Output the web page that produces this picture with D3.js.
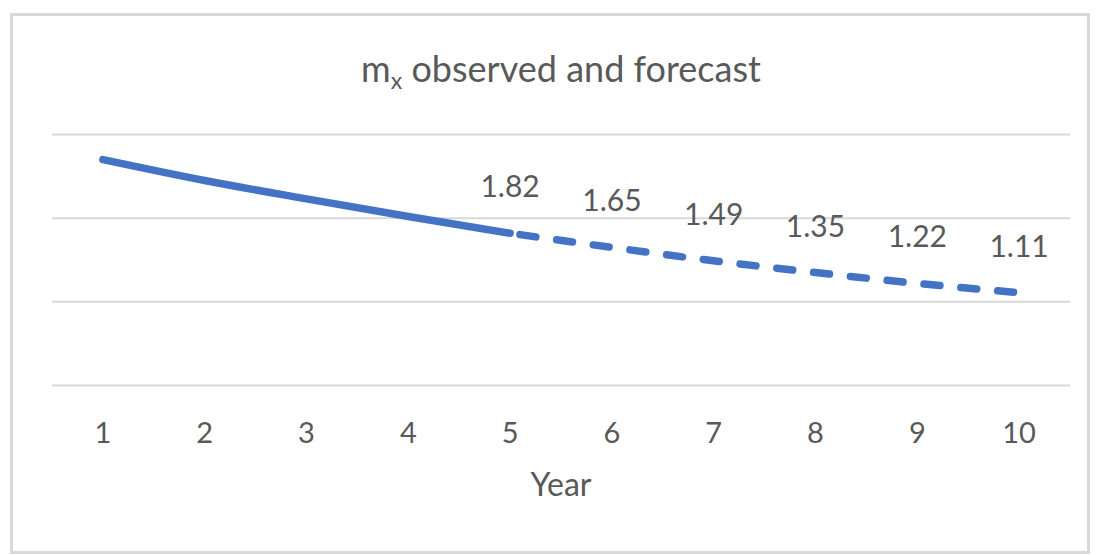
<!DOCTYPE html>
<html>
<head>
<meta charset="utf-8">
<script src="https://cdn.jsdelivr.net/npm/d3@7"></script>
<style>
  html, body { margin: 0; padding: 0; background: #fff; }
  svg { display: block; }
  text { font-family: Lato, "Open Sans", sans-serif; fill: #595959; }
</style>
</head>
<body>
<svg id="chart" width="1097" height="555"></svg>
<script>
const years = [1, 2, 3, 4, 5, 6, 7, 8, 9, 10];
const observedYears = [1, 2, 3, 4, 5];
const observedValues = [2.70, 2.45, 2.23, 2.02, 1.82];
const forecastYears = [5, 6, 7, 8, 9, 10];
const forecastValues = [1.82, 1.65, 1.49, 1.35, 1.22, 1.11];
const yTicks = [0, 1, 2, 3];
const titleMain = "m";
const titleSub = "x";
const titleRest = " observed and forecast";
const xTitle = "Year";

const svg = d3.select("#chart");
const W = 1097, H = 555;

svg.append("rect").attr("x", 0).attr("y", 0).attr("width", W).attr("height", H).attr("fill", "#fff");
svg.append("rect")
  .attr("x", 11.5).attr("y", 14.5).attr("width", 1077).attr("height", 538)
  .attr("fill", "#fff").attr("stroke", "#d9d9d9").attr("stroke-width", 3);

const x = d3.scaleBand().domain(years).range([52, 1070]).padding(0);
const y = d3.scaleLinear().domain([0, 3]).range([385.5, 134.5]);
const cx = d => x(d) + x.bandwidth() / 2;

// gridlines
svg.append("g").selectAll("line").data(yTicks).join("line")
  .attr("x1", 52).attr("x2", 1070)
  .attr("y1", d => y(d)).attr("y2", d => y(d))
  .attr("stroke", "#d9d9d9").attr("stroke-width", 2);

// x axis labels
const xAxis = d3.axisBottom(x).tickSize(0).tickPadding(0);
const gx = svg.append("g").attr("transform", "translate(0,385.5)").call(xAxis);
gx.select(".domain").remove();
gx.selectAll("text")
  .attr("y", 57).attr("dy", null)
  .style("font-family", "Lato, sans-serif")
  .style("font-size", "29px").attr("fill", "#595959");

// lines
const lineGen = d3.line().x(d => cx(d[0])).y(d => y(d[1])).curve(d3.curveMonotoneX);
svg.append("path")
  .datum(observedYears.map((d, i) => [d, observedValues[i]]))
  .attr("d", lineGen).attr("fill", "none")
  .attr("stroke", "#4472c4").attr("stroke-width", 7.5).attr("stroke-linecap", "round");
svg.append("path")
  .datum(forecastYears.map((d, i) => [d, forecastValues[i]]))
  .attr("d", lineGen).attr("fill", "none")
  .attr("stroke", "#4472c4").attr("stroke-width", 7.5).attr("stroke-linecap", "round")
  .attr("stroke-dasharray", "16 21").attr("stroke-dashoffset", -10);

// data labels
svg.append("g").selectAll("text").data(forecastYears.map((d, i) => [d, forecastValues[i]])).join("text")
  .attr("x", d => cx(d[0])).attr("y", d => y(d[1]) - 36)
  .attr("text-anchor", "middle").style("font-size", "30px")
  .text(d => d[1].toFixed(2));

// title
const t = svg.append("text").attr("x", 561).attr("y", 82).attr("text-anchor", "middle").style("font-size", "36px");
t.append("tspan").text(titleMain);
t.append("tspan").attr("dy", 7).style("font-size", "23px").text(titleSub);
t.append("tspan").attr("dy", -7).text(titleRest);

// axis title
svg.append("text").attr("x", 561).attr("y", 496).attr("text-anchor", "middle")
  .style("font-size", "32px").text(xTitle);
</script>
</body>
</html>
